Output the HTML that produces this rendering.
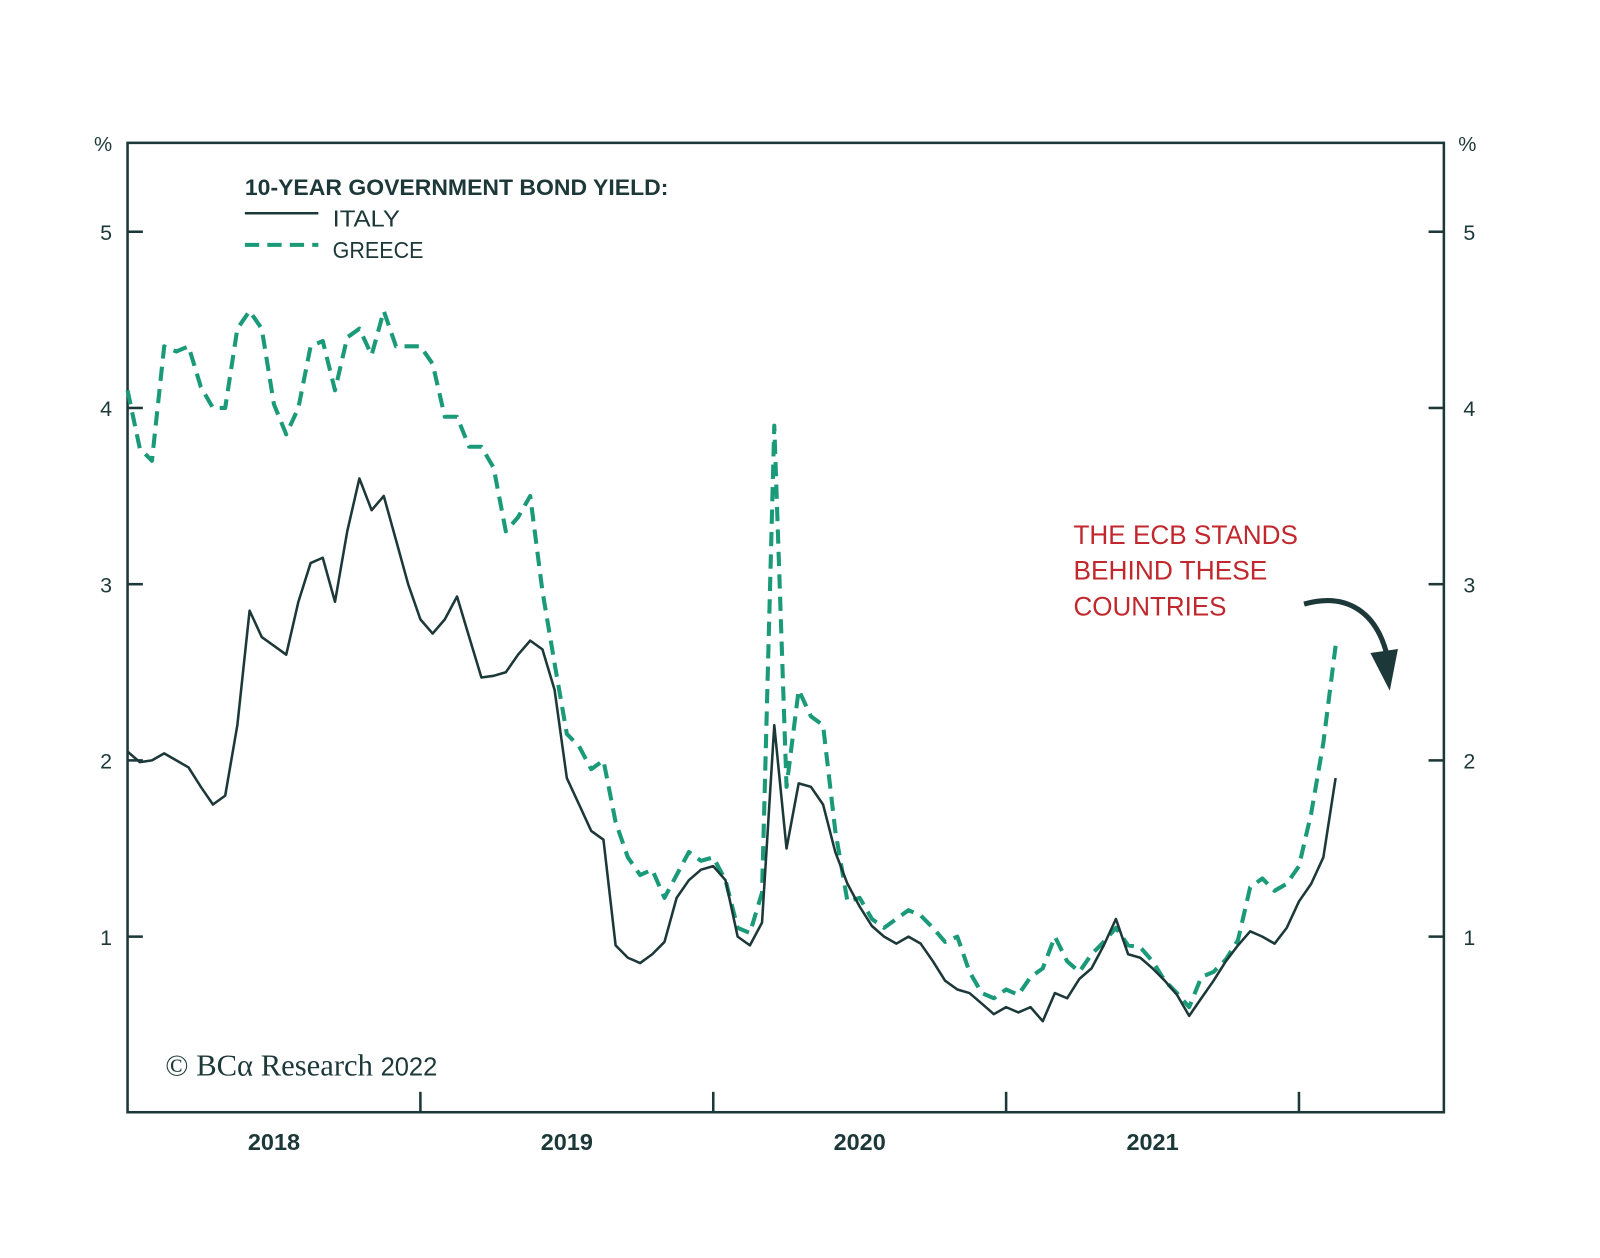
<!DOCTYPE html>
<html><head><meta charset="utf-8"><style>
html,body{margin:0;padding:0;background:#fff;}
svg{display:block;font-family:"Liberation Sans",sans-serif;}
</style></head><body>
<svg id="chart" width="1600" height="1258" viewBox="0 0 1600 1258" xmlns="http://www.w3.org/2000/svg">
<rect width="1600" height="1258" fill="#fff"/>
<g transform="scale(1.0204)">
<g id="axes"></g>
<g id="series"></g>
<g>
<text x="240" y="191" font-size="22" font-weight="bold" fill="#1d3838" textLength="415" lengthAdjust="spacingAndGlyphs">10-YEAR GOVERNMENT BOND YIELD:</text>
<line x1="240" y1="209" x2="312" y2="209" stroke="#1d3838" stroke-width="2.5"/>
<text x="326" y="222" font-size="23" fill="#1d3838" textLength="66" lengthAdjust="spacingAndGlyphs">ITALY</text>
<line x1="240" y1="240" x2="312" y2="240" stroke="#1a9a78" stroke-width="4" stroke-dasharray="14,8"/>
<text x="326" y="253" font-size="23" fill="#1d3838" textLength="89" lengthAdjust="spacingAndGlyphs">GREECE</text>
</g>
<g fill="#c0282d" font-size="26">
<text x="1052" y="533" textLength="220" lengthAdjust="spacingAndGlyphs">THE ECB STANDS</text>
<text x="1052" y="568" textLength="190" lengthAdjust="spacingAndGlyphs">BEHIND THESE</text>
<text x="1052" y="603" textLength="150" lengthAdjust="spacingAndGlyphs">COUNTRIES</text>
</g>
<path d="M1278,592 C1320,580 1350,600 1360,645" fill="none" stroke="#1d3838" stroke-width="5"/>
<polygon points="1343,640 1370,636 1362,677" fill="#1d3838"/>
<text x="162" y="1054" font-size="30" font-family="Liberation Serif,serif" fill="#1d3838">© BCα Research <tspan font-family="Liberation Sans,sans-serif" font-size="25">2022</tspan></text>
</g>
</svg>
<script>
const yTicks=[1,2,3,4,5];
const yearLabels=["2018","2019","2020","2021"];
const italy=[2.05,1.99,2.0,2.04,2.0,1.96,1.85,1.75,1.8,2.2,2.85,2.7,2.65,2.6,2.9,3.12,3.15,2.9,3.3,3.6,3.42,3.5,3.25,3.0,2.8,2.72,2.8,2.93,2.7,2.47,2.48,2.5,2.6,2.68,2.63,2.4,1.9,1.75,1.6,1.55,0.95,0.88,0.85,0.9,0.97,1.22,1.32,1.38,1.4,1.32,1.0,0.95,1.08,2.2,1.5,1.87,1.85,1.75,1.48,1.3,1.17,1.06,1.0,0.96,1.0,0.96,0.86,0.75,0.7,0.68,0.62,0.56,0.6,0.57,0.6,0.52,0.68,0.65,0.76,0.82,0.95,1.1,0.9,0.88,0.82,0.75,0.67,0.55,0.65,0.75,0.86,0.95,1.03,1.0,0.96,1.05,1.2,1.3,1.45,1.9];
const greece=[4.1,3.77,3.7,4.35,4.32,4.35,4.12,4.0,4.0,4.45,4.55,4.45,4.02,3.85,4.0,4.35,4.38,4.1,4.4,4.45,4.3,4.55,4.35,4.35,4.35,4.25,3.95,3.95,3.78,3.78,3.66,3.3,3.38,3.5,2.96,2.55,2.15,2.08,1.95,2.0,1.65,1.45,1.35,1.38,1.22,1.35,1.48,1.43,1.45,1.32,1.05,1.02,1.25,3.9,1.85,2.4,2.25,2.2,1.6,1.2,1.22,1.1,1.05,1.1,1.15,1.12,1.05,0.97,1.0,0.8,0.68,0.65,0.7,0.67,0.77,0.82,1.0,0.86,0.8,0.9,0.97,1.05,0.95,0.94,0.86,0.75,0.68,0.6,0.77,0.8,0.87,0.98,1.28,1.33,1.26,1.3,1.4,1.7,2.1,2.65];
const startYear=2018;
const dates=italy.map((_,i)=>startYear+i/24); // semi-monthly observations
const L=125,R=1415,T=140,B=1090;
const xS=t=>L+(t-2018)*287;
const yS=v=>1090.6-v*172.7;
const NS="http://www.w3.org/2000/svg";
function mk(tag,attrs,parent){const e=document.createElementNS(NS,tag);for(const k in attrs)e.setAttribute(k,attrs[k]);parent.appendChild(e);return e;}
const ax=document.getElementById('axes');
let fr=mk('rect',{x:L,y:T,width:R-L,height:B-T,fill:'none',stroke:'#1d3838','stroke-width':2.5},ax);


yTicks.forEach(v=>{
 let a=mk('line',{x1:L,x2:L+15,y1:yS(v),y2:yS(v),stroke:'#1d3838','stroke-width':2.5},ax);
 
 
 let b=mk('line',{x1:R-15,x2:R,y1:yS(v),y2:yS(v),stroke:'#1d3838','stroke-width':2.5},ax);
 
 
 let t1=mk('text',{x:104,y:yS(v)+8,'font-size':21,'text-anchor':'middle',fill:'#1d3838'},ax);t1.textContent=v;
 
 
 let t2=mk('text',{x:1440,y:yS(v)+8,'font-size':21,'text-anchor':'middle',fill:'#1d3838'},ax);t2.textContent=v;
 
 
});
[[101,'left'],[1438,'right']].forEach(p=>{
 let u=mk('text',{x:p[0],y:148,'font-size':20,'text-anchor':'middle',fill:'#1d3838'},ax);u.textContent='%';
 
 
});
yearLabels.forEach((y,i)=>{
 const yr=+y;
 let tk=mk('line',{x1:xS(yr+1),x2:xS(yr+1),y1:B,y2:B-20,stroke:'#1d3838','stroke-width':2.5},ax);
 
 
 let t=mk('text',{x:xS(yr+0.5),y:1127,'font-size':23,'font-weight':'bold','text-anchor':'middle',fill:'#1d3838'},ax);t.textContent=y;
 
 
});
const sg=document.getElementById('series');
const pathOf=arr=>arr.map((v,i)=>(i?'L':'M')+xS(dates[i]).toFixed(1)+','+yS(v).toFixed(1)).join('');
let g=mk('path',{d:pathOf(greece),fill:'none',stroke:'#1a9a78','stroke-width':4,'stroke-dasharray':'14,8','stroke-linejoin':'round'},sg);


let it=mk('path',{d:pathOf(italy),fill:'none',stroke:'#1d3838','stroke-width':2.5,'stroke-linejoin':'round'},sg);


</script>
</body></html>
